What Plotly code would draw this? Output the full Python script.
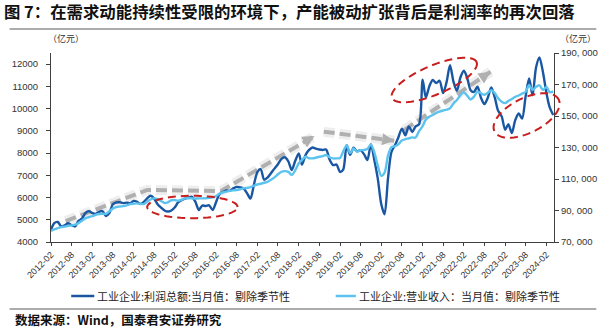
import math
import pandas as pd
import plotly.graph_objects as go

# ---------------- data ----------------
months = pd.date_range("2012-02-01", periods=147, freq="MS")

# 工业企业:利润总额:当月值:剔除季节性 (亿元, left axis)
profit = [
    4550, 4850, 4900, 4700, 4750, 4840, 4760, 4700, 4950, 5050, 5300, 5390,
    5300, 5260, 5360, 5390, 5170, 5300, 5700, 5780, 5785, 5750, 5770, 5740,
    5850, 5815, 5710, 5800, 5965, 6080, 5950, 5700, 5550, 5420, 5370, 5420,
    5560, 5780, 5880, 5950, 6000, 6030, 5815, 5440, 5640, 5620, 5650, 5440,
    5800, 6150, 6250, 6320, 6300, 6410, 6480, 6460, 6410, 6190, 5950, 6600,
    7150, 7280, 6800, 6900, 7100, 7300, 7500, 7740, 7810, 7620, 7240, 7650,
    7980, 7480, 7900, 8130, 8250, 8200, 8160, 8140, 8160, 7700, 7460, 7480,
    7150, 7250, 8350, 7920, 8240, 8080, 8130, 7950, 7680, 8400, 7700, 6850,
    5700, 5250, 6900, 8050, 8350, 8700, 9100, 8800, 9200, 8950, 9200, 9300,
    11300, 10500, 11000, 11285, 11150, 11250, 10700, 11200, 11950, 11200, 10800, 11400,
    11700, 11400, 10830, 10750, 10980, 10500, 10200, 10500, 10950, 10500, 9900, 9650,
    9050, 9300, 8900, 9480, 9780, 9550, 10550, 11350, 10600, 11850, 12300, 11650,
    10700, 10050, 9710,
]

# 工业企业:营业收入:当月值:剔除季节性 (亿元, right axis)
revenue = [
    77000, 78000, 78800, 79400, 79800, 80200, 80600, 81000, 82000, 83500, 85000, 85800,
    86400, 87200, 87800, 87900, 87800, 89500, 91200, 92100, 92500, 92800, 93300, 94000,
    94300, 94500, 94300, 94100, 95600, 97000, 97700, 97300, 96000, 94800, 95200, 96500,
    96600, 96200, 96800, 97700, 97800, 97700, 97600, 97700, 97700, 97800, 98000, 98300,
    99200, 100700, 101500, 102000, 102500, 102800, 103000, 103500, 104100, 104400, 104900, 105800,
    106500, 107000, 107600, 108200, 109500, 111000, 113000, 114600, 115000, 114500, 112600, 115500,
    120000, 122000, 124100, 123200, 123100, 123500, 124100, 124500, 125200, 123800, 123100, 123100,
    123300, 127500, 131500, 126500, 129400, 127400, 128300, 128400, 129000, 132000, 127000, 118500,
    112000, 114000, 125000, 130200, 130800, 132000, 134500, 135300, 135800, 136400, 136300, 140500,
    143500, 147800, 149500, 150600, 152000, 152800, 153500, 154000, 154900, 158000, 160200, 163300,
    165000, 163000, 160500, 162200, 165500, 164500, 163500, 164800, 166400, 164500, 161300, 159100,
    158200, 159500, 160800, 162200, 163000, 164200, 165400, 169600, 166500, 168500, 169500, 166600,
    168400, 165200, 165400,
]

tick_labels = [
    "2012-02", "2012-08", "2013-02", "2013-08", "2014-02", "2014-08", "2015-02",
    "2015-08", "2016-02", "2016-08", "2017-02", "2017-08", "2018-02", "2018-08",
    "2019-02", "2019-08", "2020-02", "2020-08", "2021-02", "2021-08", "2022-02",
    "2022-08", "2023-02", "2023-08", "2024-02",
]
left_ticks = [4000, 5000, 6000, 7000, 8000, 9000, 10000, 11000, 12000]
right_ticks = [70000, 90000, 110000, 130000, 150000, 170000, 190000]

# trend guides (dates, left-axis values)
trend_up_1 = (["2012-06-10", "2014-06-01", "2016-03-15", "2018-06-20"], [4944, 6340, 6290, 8766])
trend_flat = (["2018-09-10", "2020-05-25"], [8960, 8555])
trend_up_2 = (["2020-08-20", "2022-09-25"], [9035, 11657])

# ---------------- styling ----------------
DARK = "#1A57A3"
LIGHT = "#5CC3EE"
GREY = "#B0B0B0"
RED = "#C81E1E"
AXIS = "#404040"
CJK = "Noto Sans CJK SC"
NUM = "Liberation Sans"

W, H = 610, 328
L, R, T, B = 43, 566, 53, 242


def fx(x):
    return (x - L) / (R - L)


def fy(y):
    return (B - y) / (B - T)


fig = go.Figure()

# trend guides: soft halo + dashed line
for xs, ys in (trend_up_1, trend_flat, trend_up_2):
    fig.add_trace(go.Scatter(
        x=xs, y=ys, mode="lines", yaxis="y", hoverinfo="skip", showlegend=False,
        line=dict(color="rgba(170,170,170,0.2)", width=10, dash="11px,5px"),
    ))
    fig.add_trace(go.Scatter(
        x=xs, y=ys, mode="lines", yaxis="y", hoverinfo="skip", showlegend=False,
        line=dict(color=GREY, width=4, dash="11px,5px"),
    ))

fig.add_trace(go.Scatter(
    x=months, y=profit, mode="lines", yaxis="y", showlegend=False,
    line=dict(color=DARK, width=2.4, shape="spline", smoothing=0.8),
))
fig.add_trace(go.Scatter(
    x=months, y=revenue, mode="lines", yaxis="y2", showlegend=False,
    line=dict(color=LIGHT, width=2.4, shape="spline", smoothing=0.8),
))

# arrow heads at the end of the trend guides
heads = [
    (("2018-06-20", 8766), ("2018-04-01", 8530)),
    (("2020-05-25", 8555), ("2020-03-10", 8605)),
    (("2022-09-25", 11657), ("2022-07-08", 11385)),
]
for (hx, hy), (tx, ty) in heads:
    fig.add_annotation(
        x=hx, y=hy, ax=tx, ay=ty, xref="x", yref="y", axref="x", ayref="y",
        text="", showarrow=True, arrowhead=2, arrowsize=0.6, arrowwidth=4,
        arrowcolor=GREY, standoff=0,
    )


# dashed red ellipses (pixel geometry)
def ellipse_path(cx, cy, a, b, deg, n=72):
    th = math.radians(deg)
    pts = []
    for i in range(n + 1):
        t = 2 * math.pi * i / n
        x = cx + a * math.cos(t) * math.cos(th) - b * math.sin(t) * math.sin(th)
        y = cy - (a * math.cos(t) * math.sin(th) + b * math.sin(t) * math.cos(th))
        pts.append(f"{fx(x):.5f},{fy(y):.5f}")
    return "M" + " L".join(pts) + " Z"


for cx, cy, a, b, deg in ((190, 207, 47, 11.2, 0), (441.5, 80, 47.5, 14.5, 22), (537.5, 115.5, 37, 17.5, 25)):
    fig.add_shape(type="path", xref="paper", yref="paper", path=ellipse_path(cx, cy, a, b, deg),
                  line=dict(color=RED, width=2, dash="8px,5px"))

# header / footer rules
for yy in (29, 309):
    fig.add_shape(type="line", xref="paper", yref="paper", x0=fx(0), x1=fx(W), y0=fy(yy), y1=fy(yy),
                  line=dict(color="#595959", width=1))

# legend
legend_items = [
    (64, 88, DARK, "工业企业:利润总额:当月值：剔除季节性"),
    (339, 360, LIGHT, "工业企业:营业收入：当月值：剔除季节性"),
]
for x0, x1, col, label in legend_items:
    fig.add_shape(type="line", xref="paper", yref="paper", x0=fx(x0), x1=fx(x1), y0=fy(296), y1=fy(296),
                  line=dict(color=col, width=2.5))
    fig.add_annotation(x=fx(x1 + 1), y=fy(296), xref="paper", yref="paper", text=label, showarrow=False,
                       xanchor="left", yanchor="middle", font=dict(family=CJK, size=11, color="#222"))

# unit labels
fig.add_annotation(x=fx(38), y=fy(38), xref="paper", yref="paper", text="（亿元）", showarrow=False,
                   xanchor="left", yanchor="middle", font=dict(family=CJK, size=9, color="#333"))
fig.add_annotation(x=fx(570), y=fy(39), xref="paper", yref="paper", text="（亿元）", showarrow=False,
                   xanchor="left", yanchor="middle", font=dict(family=CJK, size=9, color="#333"))

# source
fig.add_annotation(x=fx(4), y=fy(319), xref="paper", yref="paper",
                   text="数据来源：Wind，国泰君安证券研究", showarrow=False,
                   xanchor="left", yanchor="middle", font=dict(family=CJK, size=12.5, color="#111", weight=700))

fig.update_layout(
    width=W, height=H, autosize=False,
    margin=dict(l=L, r=W - R, t=T, b=H - B, pad=0),
    paper_bgcolor="white", plot_bgcolor="white",
    title=dict(text="图 7：在需求动能持续性受限的环境下，产能被动扩张背后是利润率的再次回落",
               xref="container", yref="container", x=4 / W, y=1 - 12 / H,
               xanchor="left", yanchor="middle",
               font=dict(family=CJK, size=16.4, color="#111", weight=700)),
    xaxis=dict(
        type="date", range=["2012-02-01", "2024-04-08"],
        tickmode="array", tickvals=pd.to_datetime(tick_labels), ticktext=tick_labels,
        tickangle=-45, tickfont=dict(family=NUM, size=9, color="#333"),
        ticks="outside", ticklen=3, tickcolor=AXIS,
        showline=True, linecolor=AXIS, linewidth=1, showgrid=False, zeroline=False,
    ),
    yaxis=dict(
        range=[4000, 12500], tickmode="array", tickvals=left_ticks,
        ticktext=[str(v) for v in left_ticks],
        tickfont=dict(family=NUM, size=9.5, color="#333"),
        ticks="outside", ticklen=4, tickcolor=AXIS, ticklabelstandoff=6,
        showline=True, linecolor=AXIS, linewidth=1, showgrid=False, zeroline=False,
    ),
    yaxis2=dict(
        overlaying="y", side="right", range=[70000, 190000], tickmode="array",
        tickvals=right_ticks, ticktext=[f"{v:,}".replace(",", ", ") for v in right_ticks],
        tickfont=dict(family=NUM, size=9.5, color="#333"),
        ticks="outside", ticklen=4, tickcolor=AXIS,
        showline=True, linecolor=AXIS, linewidth=1, showgrid=False, zeroline=False,
    ),
)

fig.write_html("out.html")
